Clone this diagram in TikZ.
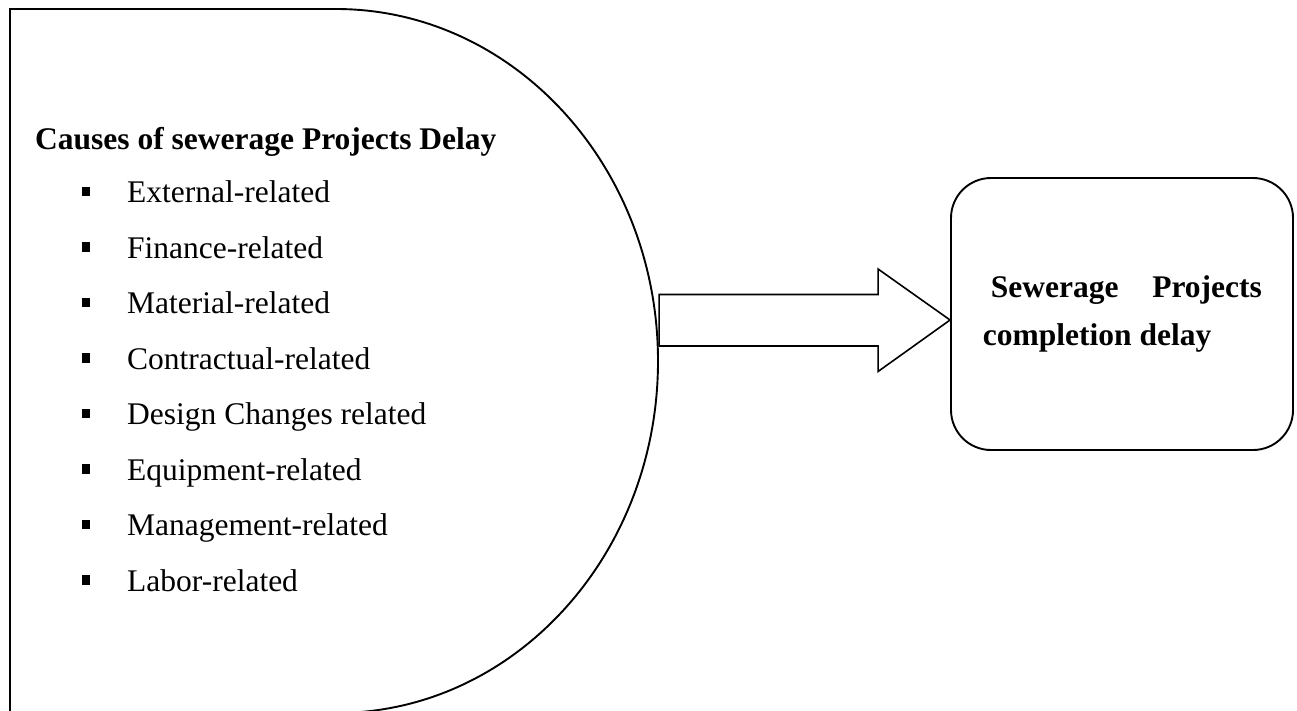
\documentclass[tikz,border=0pt]{standalone}
\usepackage{fontspec}
\setmainfont{Liberation Serif}
\usetikzlibrary{calc}

\begin{document}
\begin{tikzpicture}[
    x=1pt, y=-1pt,
    outline/.style={
% The border:
      line width=1.9pt,
      draw=black,
      line join=miter
    },
    heading/.style={
% The font:
      font=\fontsize{31.5}{38}\selectfont\bfseries,
% The placement:
      anchor=base west, inner sep=0pt
    },
    cause/.style={
      font=\fontsize{31.5}{38}\selectfont,
      anchor=base west, inner sep=0pt
    },
    bulletmark/.style={
      rectangle, fill=black, minimum width=8.5pt, minimum height=9.5pt, inner sep=0pt
    },
    result/.style={
% The shape:
      rectangle, rounded corners=40pt,
% The size:
      minimum width=342pt, minimum height=272pt,
      outline
    }]
  \useasboundingbox (0,0) rectangle (1297,710);

  % half-round block of causes
  \draw[outline] (10,716) -- (10,9) -- (336,9)
    arc[start angle=90, end angle=-90, x radius=322pt, y radius=352pt];
  \node[heading] (title) at (35,149) {Causes of sewerage Projects Delay};
  \foreach \txt [count=\i] in {External-related, Finance-related,
      Material-related, Contractual-related, Design Changes related,
      Equipment-related, Management-related, Labor-related} {
    \node[cause] (cause\i) at (127,{202.5+55.5*(\i-1)}) {\txt};
    \node[bulletmark] (bullet\i) at (86,{191.5+55.5*(\i-1)}) {};
  }

  % outcome box
  \node[result] (outcome) at (1122,314) {};
  \node[heading] (outline1) at (990.7,297) {\makebox[271pt][s]{Sewerage Projects}};
  \node[heading] (outline2) at (982.7,345) {completion delay};

  % block arrow
  \coordinate (tip) at (outcome.west |- 0,320);
  \draw[outline, line width=1.6pt] (tip) -- ++(-72,-51) -- ++(0,25.5) -- ++(-219,0)
    -- ++(0,51.5) -- ++(219,0) -- ++(0,25.5) -- cycle;
\end{tikzpicture}
\end{document}
